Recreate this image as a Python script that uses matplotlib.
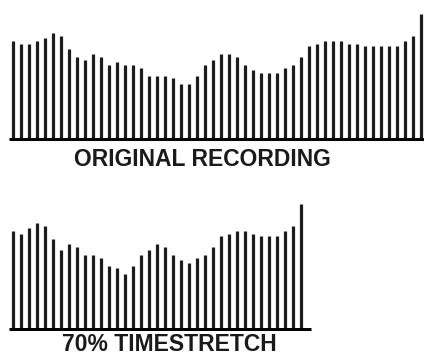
import matplotlib
matplotlib.use("Agg")
import matplotlib.pyplot as plt

# heights of each stroke (in pixels above the base line)
original = [96.7, 94, 94, 96.7, 99.3, 104.7, 102, 88.7, 80.7, 78,
            83.3, 80.7, 72.7, 75.3, 72.7, 72.7, 70, 62, 62, 62,
            59.3, 54, 54, 62, 72.7, 78, 83.3, 83.3, 80.7, 72.7,
            67.3, 64.7, 64.7, 64.7, 70, 72.7, 80.7, 91.3, 94, 96.7,
            96.7, 96.7, 94, 94, 91.3, 91.3, 91.3, 91.3, 91.3, 96.7,
            102, 123.3]
stretched = [96.7, 94, 99.3, 104.7, 102, 88.7, 78, 83.3, 80.7, 72.7,
             72.7, 70, 62, 59.3, 54, 62, 72.7, 78, 83.3, 80.7,
             72.7, 67.3, 64.7, 70, 72.7, 80.7, 91.3, 94, 96.7, 96.7,
             94, 91.3, 91.3, 91.3, 96.7, 102, 123.3]
labels = ["ORIGINAL RECORDING", "70% TIMESTRETCH"]

W, H = 424, 356
fig = plt.figure(figsize=(W / 100, H / 100), dpi=100)
fig.patch.set_facecolor("white")


def draw_panel(top_px, values, base_end_px):
    # axes spanning full width, 141 px tall, 1 data unit = 1 px vertically
    ax = fig.add_axes([0, (H - top_px - 141) / H, 1, 141 / H])
    ax.set_xlim(-13 / 8, (W - 13) / 8)
    ax.set_ylim(-3.5, 137.5)
    ax.axis("off")
    xs = list(range(len(values)))
    ax.vlines(xs, 0, values, colors="#1c1c1c", linewidth=2.3)
    ax.hlines(-2.5, -0.5, (base_end_px - 13) / 8, colors="black",
              linewidth=3.6)
    return ax


draw_panel(0, original, W)
draw_panel(190, stretched, 311)

fig.text(202.5 / W, (H - 166) / H, labels[0], ha="center", va="baseline",
         fontsize=16.5, fontweight="bold", family="Liberation Sans",
         color="#1a1a1a")
fig.text(169.5 / W, (H - 351) / H, labels[1], ha="center", va="baseline",
         fontsize=16.5, fontweight="bold", family="Liberation Sans",
         color="#1a1a1a")

fig.savefig("out.png", dpi=100, facecolor="white")
